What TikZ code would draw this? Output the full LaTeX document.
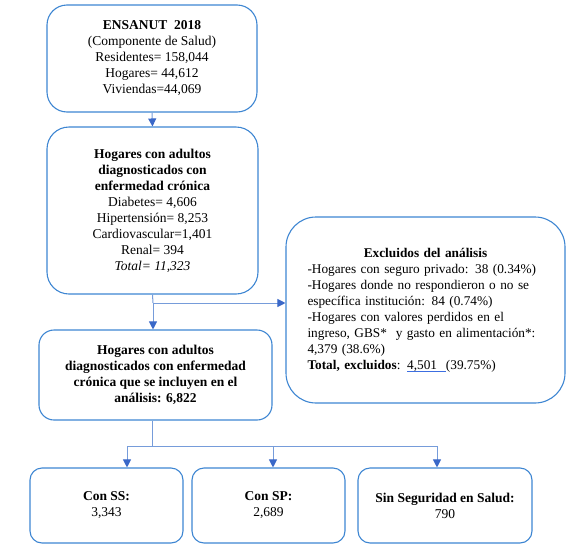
\documentclass[tikz,border=0pt]{standalone}
\usepackage{fontspec}
\setmainfont{Liberation Serif}
\usetikzlibrary{arrows.meta,calc}
\definecolor{boxblue}{RGB}{62,134,210}
\definecolor{linkblue}{RGB}{118,156,218}
\definecolor{tipblue}{RGB}{58,104,200}
\definecolor{ulblue}{RGB}{60,110,225}
\newcommand{\blueul}[1]{\setbox0\hbox{#1}\rlap{\textcolor{ulblue}{\rule[-2.8pt]{\wd0}{1.3pt}}}\box0}
\begin{document}
\begin{tikzpicture}[x=1pt,y=-1pt,
  box/.style={draw=boxblue,line width=1.1pt,align=center,inner sep=2pt,
    font=\fontsize{13.5}{16}\selectfont},
  conn/.style={draw=linkblue,line width=1pt},
  arr/.style={conn,-{Triangle[width=8pt,length=8pt,fill=tipblue,color=tipblue]}}]
\useasboundingbox (0,0) rectangle (570,549);

\node[box,rounded corners=20pt,minimum width=210pt,minimum height=107pt] (b1) at (152,58.5)
 {\textbf{ENSANUT\ \ 2018}\\(Componente de Salud)\\Residentes= 158,044\\Hogares= 44,612\\Viviendas=44,069};

\node[box,rounded corners=22pt,minimum width=211pt,minimum height=167pt] (b2) at (152.5,210.5)
 {\textbf{Hogares con adultos}\\\textbf{diagnosticados con}\\\textbf{enfermedad crónica}\\Diabetes= 4,606\\Hipertensión= 8,253\\Cardiovascular=1,401\\Renal= 394\\\textit{Total= 11,323}};

\node[box,rounded corners=30pt,minimum width=279pt,minimum height=186pt,align=left,text width=236pt,
  font=\fontsize{13.3}{16}\selectfont] (ex) at (425.5,310)
 {\makebox[\linewidth]{\textbf{Excluidos del análisis}}\\
  -Hogares con seguro privado: 38 (0.34\%)\\
  -Hogares donde no respondieron o no se\\
  específica institución: 84 (0.74\%)\\
  -Hogares con valores perdidos en el\\
  ingreso, GBS*\ \ y gasto en alimentación*:\\
  4,379 (38.6\%)\\
  \textbf{Total, excluidos}: \blueul{4,501\ \ }(39.75\%)};

\node[box,rounded corners=15pt,minimum width=233pt,minimum height=90pt] (b3) at (155.5,375)
 {\textbf{Hogares con adultos}\\\textbf{diagnosticados con enfermedad}\\\textbf{crónica que\ se incluyen\ en el}\\\textbf{análisis: 6,822}};

\node[box,rounded corners=12pt,minimum width=153pt,minimum height=75pt] (sa) at (106.5,505.5)
 {\textbf{Con SS:}\\3,343};
\node[box,rounded corners=12pt,minimum width=153pt,minimum height=75pt] (sb) at (268.5,505.5)
 {\textbf{Con SP:}\\2,689};
\node[box,rounded corners=12pt,minimum width=174pt,minimum height=75pt] (sc) at (445,505.5)
 {\textbf{Sin Seguridad en Salud:}\\790};

\draw[arr] (b1.south) -- (b2.north);
\coordinate (split) at (153,303);
\draw[conn] (b2.south) -- (split);
\draw[arr] (split) -- (split -| ex.west);
\draw[arr] (split) -- (split |- b3.north);

\coordinate (j) at (152,446);
\draw[conn] (b3.south -| j) -- (j);
\draw[conn] (127,446) -- (437,446);
\draw[arr] (j -| 127,0) -- ([xshift=20.5pt]sa.north);
\draw[arr] (j -| 273,0) -- ([xshift=4.5pt]sb.north);
\draw[arr] (j -| 437,0) -- ([xshift=-8pt]sc.north);
\end{tikzpicture}
\end{document}
